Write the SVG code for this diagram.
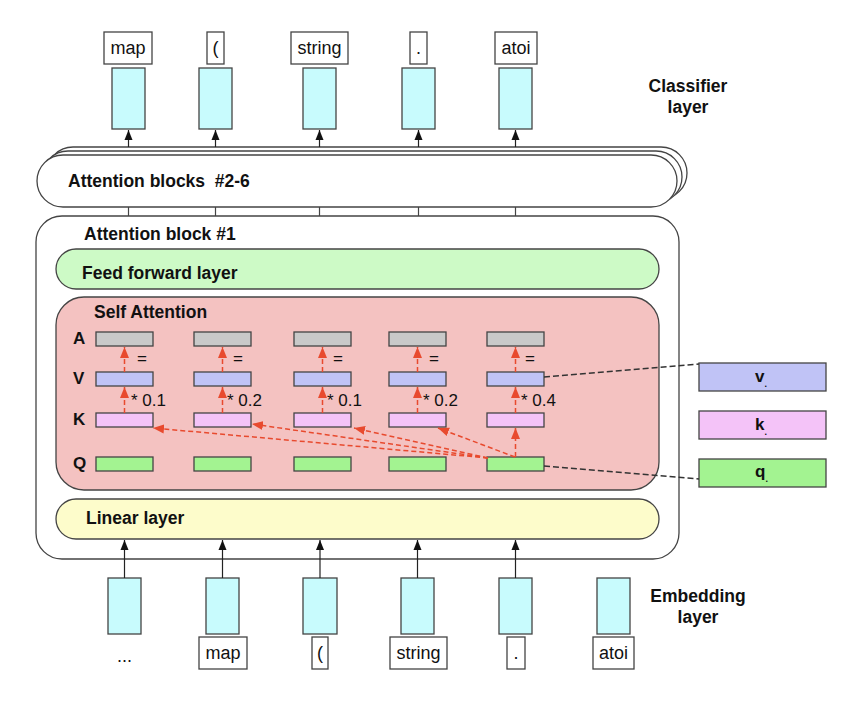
<svg xmlns="http://www.w3.org/2000/svg" width="850" height="701" viewBox="0 0 850 701">
<style>
text{font-family:"Liberation Sans",Arial,sans-serif;fill:#111}
.b{font-weight:bold;font-size:17.5px}
.tok{font-size:18px;text-anchor:middle}
.lbl{font-weight:bold;font-size:17px}
.num{font-size:17px}
.box{fill:#fff;stroke:#444;stroke-width:1.3}
.cyan{fill:#c8fbfd;stroke:#444;stroke-width:1.3}
.blk{fill:#fff;stroke:#444;stroke-width:1.3}
.A{fill:#c9c9c9;stroke:#444;stroke-width:1.3}
.V{fill:#c0c3f6;stroke:#444;stroke-width:1.3}
.K{fill:#f4c3f8;stroke:#444;stroke-width:1.3}
.Q{fill:#a3f391;stroke:#444;stroke-width:1.3}
.ar{stroke:#222;stroke-width:1.2;fill:none;marker-end:url(#ah)}
.ln{stroke:#444;stroke-width:1.2;fill:none}
.rd{stroke:#e84a2e;stroke-width:1.5;stroke-dasharray:5 3;fill:none;marker-end:url(#rh)}
.bd{stroke:#333;stroke-width:1.4;stroke-dasharray:6 3;fill:none}
</style>
<defs>
<marker id="ah" markerUnits="userSpaceOnUse" markerWidth="10" markerHeight="10" viewBox="0 0 10 10" refX="10" refY="5" orient="auto"><path d="M0,1 L10,5 L0,9 Z" fill="#111"/></marker>
<marker id="rh" markerUnits="userSpaceOnUse" markerWidth="11" markerHeight="10" viewBox="0 0 11 10" refX="11" refY="5" orient="auto"><path d="M0,0.5 L11,5 L0,9.5 Z" fill="#e84a2e"/></marker>
</defs>

<g id="classifier-layer">
<g id="out-map"><rect class="box" x="104" y="32" width="48" height="32"/><text class="tok" x="128" y="54">map</text><rect class="cyan" x="112" y="68" width="33" height="61"/></g>
<g id="out-paren"><rect class="box" x="207" y="32" width="17" height="32"/><text class="tok" x="215.5" y="54">(</text><rect class="cyan" x="199" y="68" width="33" height="61"/></g>
<g id="out-string"><rect class="box" x="291" y="32" width="57" height="32"/><text class="tok" x="319.5" y="54">string</text><rect class="cyan" x="303" y="68" width="33" height="61"/></g>
<g id="out-dot"><rect class="box" x="410" y="32" width="17" height="32"/><text class="tok" x="418.5" y="54">.</text><rect class="cyan" x="402" y="68" width="33" height="61"/></g>
<g id="out-atoi"><rect class="box" x="495" y="32" width="42" height="32"/><text class="tok" x="516" y="54">atoi</text><rect class="cyan" x="499" y="68" width="33" height="61"/></g>
<text class="b" x="688" y="92" text-anchor="middle">Classifier</text>
<text class="b" x="688" y="113" text-anchor="middle">layer</text>
</g>

<g id="attention-blocks-2-6">
<rect class="blk" x="47" y="147" width="640" height="52" rx="26"/>
<rect class="blk" x="42" y="151" width="640" height="52" rx="26"/>
<rect class="blk" x="37" y="155" width="640" height="52" rx="26"/>
<text class="b" x="68" y="187" xml:space="preserve">Attention blocks  #2-6</text>
</g>

<g id="attention-block-1">
<rect class="blk" x="36" y="216" width="643" height="343" rx="26"/>
<text class="b" x="84" y="240">Attention block #1</text>
<g id="feed-forward"><rect x="56" y="249" width="603" height="40" rx="20" fill="#cdfac6" stroke="#444" stroke-width="1.3"/><text class="b" x="82" y="279">Feed forward layer</text></g>
<g id="self-attention">
<rect x="56" y="297" width="603" height="193" rx="28" fill="#f4c2c1" stroke="#444" stroke-width="1.3"/>
<text class="b" x="94" y="318">Self Attention</text>
<text class="lbl" x="73" y="344">A</text>
<text class="lbl" x="73" y="384">V</text>
<text class="lbl" x="73" y="425">K</text>
<text class="lbl" x="73" y="469">Q</text>
<g id="row-A"><rect class="A" x="96" y="332" width="57" height="14"/><rect class="A" x="194" y="332" width="57" height="14"/><rect class="A" x="294" y="332" width="57" height="14"/><rect class="A" x="389" y="332" width="57" height="14"/><rect class="A" x="487" y="332" width="57" height="14"/></g>
<g id="row-V"><rect class="V" x="96" y="372" width="57" height="14"/><rect class="V" x="194" y="372" width="57" height="14"/><rect class="V" x="294" y="372" width="57" height="14"/><rect class="V" x="389" y="372" width="57" height="14"/><rect class="V" x="487" y="372" width="57" height="14"/></g>
<g id="row-K"><rect class="K" x="96" y="413" width="57" height="14"/><rect class="K" x="194" y="413" width="57" height="14"/><rect class="K" x="294" y="413" width="57" height="14"/><rect class="K" x="389" y="413" width="57" height="14"/><rect class="K" x="487" y="413" width="57" height="14"/></g>
<g id="row-Q"><rect class="Q" x="96" y="457" width="57" height="14"/><rect class="Q" x="194" y="457" width="57" height="14"/><rect class="Q" x="294" y="457" width="57" height="14"/><rect class="Q" x="389" y="457" width="57" height="14"/><rect class="Q" x="487" y="457" width="57" height="14"/></g>
<g id="eq-labels" class="num">
<text class="num" x="137" y="364">=</text><text class="num" x="233" y="364">=</text><text class="num" x="333" y="364">=</text><text class="num" x="429" y="364">=</text><text class="num" x="525" y="364">=</text>
<text class="num" x="131" y="406">* 0.1</text><text class="num" x="227" y="406">* 0.2</text><text class="num" x="327" y="406">* 0.1</text><text class="num" x="423" y="406">* 0.2</text><text class="num" x="521" y="406">* 0.4</text>
</g>
</g>
<g id="linear-layer"><rect x="56" y="499" width="603" height="40" rx="20" fill="#fdfccb" stroke="#444" stroke-width="1.3"/><text class="b" x="86" y="524">Linear layer</text></g>
</g>

<g id="vkq-legend">
<g id="legend-v"><rect class="V" x="699" y="363" width="127" height="28"/><text class="lbl" x="755" y="382">v<tspan font-size="9" dy="5">.</tspan></text></g>
<g id="legend-k"><rect class="K" x="699" y="411" width="127" height="28"/><text class="lbl" x="755" y="430">k<tspan font-size="9" dy="5">.</tspan></text></g>
<g id="legend-q"><rect class="Q" x="699" y="459" width="127" height="28"/><text class="lbl" x="755" y="477">q<tspan font-size="9" dy="5">.</tspan></text></g>
</g>

<g id="embedding-layer">
<g id="in-ellipsis"><rect class="cyan" x="108" y="578" width="33" height="56"/><text class="tok" x="124.5" y="662">...</text></g>
<g id="in-map"><rect class="cyan" x="206" y="578" width="33" height="56"/><rect class="box" x="199" y="637" width="48" height="32"/><text class="tok" x="223" y="659">map</text></g>
<g id="in-paren"><rect class="cyan" x="303" y="578" width="34" height="56"/><rect class="box" x="312" y="637" width="16" height="32"/><text class="tok" x="320" y="659">(</text></g>
<g id="in-string"><rect class="cyan" x="401" y="578" width="33" height="56"/><rect class="box" x="390" y="637" width="57" height="32"/><text class="tok" x="418.5" y="659">string</text></g>
<g id="in-dot"><rect class="cyan" x="499" y="578" width="33" height="56"/><rect class="box" x="507" y="637" width="18" height="32"/><text class="tok" x="516" y="659">.</text></g>
<g id="in-atoi"><rect class="cyan" x="597" y="578" width="33" height="56"/><rect class="box" x="593" y="637" width="41" height="32"/><text class="tok" x="613.5" y="659">atoi</text></g>
<text class="b" x="698" y="602" text-anchor="middle">Embedding</text>
<text class="b" x="698" y="623" text-anchor="middle">layer</text>
</g>

<g id="connectors">
<path class="ar" d="M128.5,147 V130"/><path class="ar" d="M215.5,147 V130"/><path class="ar" d="M319.5,147 V130"/><path class="ar" d="M418.5,147 V130"/><path class="ar" d="M515.5,147 V130"/>
<path class="ln" d="M128.5,207 V216 M215.5,207 V216 M319.5,207 V216 M418.5,207 V216 M515.5,207 V216"/>
<path class="ar" d="M124.5,578 V540"/><path class="ar" d="M222.5,578 V540"/><path class="ar" d="M320,578 V540"/><path class="ar" d="M417.5,578 V540"/><path class="ar" d="M515.5,578 V540"/>
<path class="rd" d="M124.5,372 V347"/><path class="rd" d="M222.5,372 V347"/><path class="rd" d="M322.5,372 V347"/><path class="rd" d="M417.5,372 V347"/><path class="rd" d="M515.5,372 V347"/>
<path class="rd" d="M124.5,413 V387"/><path class="rd" d="M222.5,413 V387"/><path class="rd" d="M322.5,413 V387"/><path class="rd" d="M417.5,413 V387"/><path class="rd" d="M515.5,413 V387"/>
<path class="rd" d="M488,458 L153,428"/><path class="rd" d="M488,458 L252,424"/><path class="rd" d="M488,458 L354,428"/><path class="rd" d="M515,457 L438,428"/><path class="rd" d="M515.5,457 V428"/>
<path class="bd" d="M544,377 L699,364"/>
<path class="bd" d="M544,466 L699,479"/>
</g>
</svg>
